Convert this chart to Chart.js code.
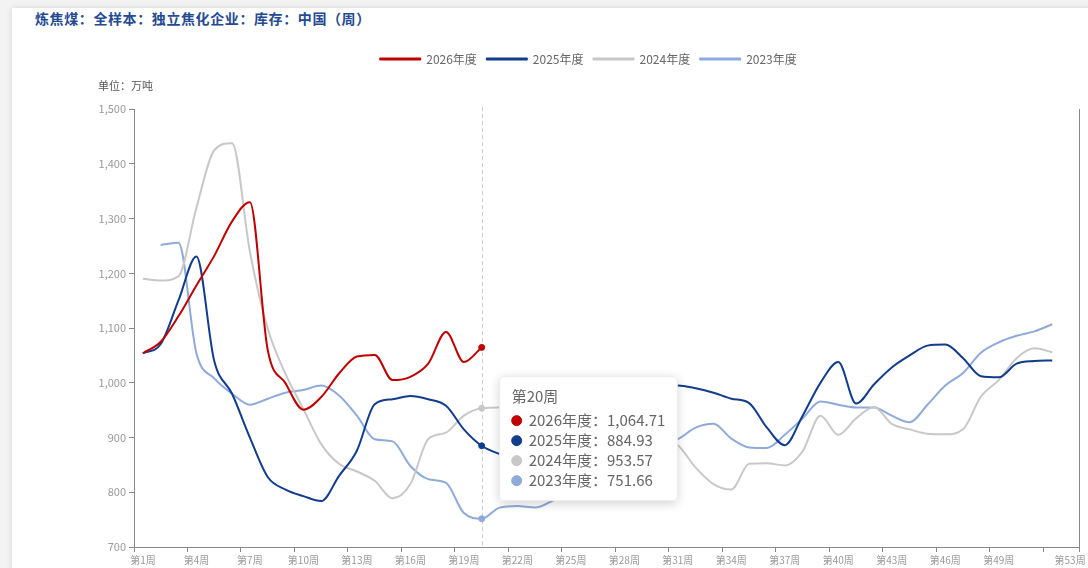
<!DOCTYPE html>
<html>
<head>
<meta charset="utf-8">
<title>炼焦煤库存</title>
<script src="https://cdn.jsdelivr.net/npm/chart.js@4.4.1/dist/chart.umd.min.js"></script>
<style>
    html, body {
        margin: 0;
        padding: 0;
        width: 1088px;
        height: 568px;
        overflow: hidden;
        background: #f3f3f3;
        font-family: "Noto Sans CJK SC", "Noto Sans", sans-serif;
    }
    .card {
        position: absolute;
        left: 12px;
        top: 8px;
        width: 1090px;
        height: 570px;
        background: #fff;
        box-shadow: 0 0 6px rgba(0, 0, 0, 0.12);
    }
    .title {
        position: absolute;
        left: 35px;
        top: 8px;
        font-size: 14px;
        line-height: 20px;
        font-weight: bold;
        color: #254a92;
        letter-spacing: 0.6px;
    }
    .chart-box {
        position: absolute;
        left: 12px;
        top: 35px;
        width: 1076px;
        height: 533px;
    }
</style>
</head>
<body>
<div class="card"></div>
<div class="title">炼焦煤：全样本：独立焦化企业：库存：中国（周）</div>
<div class="chart-box"><canvas id="stockChart"></canvas></div>

<script>
// Week categories (one point per week)
const weekLabels = [
    '第1周', '第2周', '第3周', '第4周', '第5周', '第6周', '第7周', '第8周', '第9周', '第10周',
    '第11周', '第12周', '第13周', '第14周', '第15周', '第16周', '第17周', '第18周', '第19周', '第20周',
    '第21周', '第22周', '第23周', '第24周', '第25周', '第26周', '第27周', '第28周', '第29周', '第30周',
    '第31周', '第32周', '第33周', '第34周', '第35周', '第36周', '第37周', '第38周', '第39周', '第40周',
    '第41周', '第42周', '第43周', '第44周', '第45周', '第46周', '第47周', '第48周', '第49周', '第50周',
    '第51周', '第52周'
];

// Tick marks sit on week boundaries, labels in the middle of their week
const xTickWeeks = [1, 4, 7, 10, 13, 16, 19, 22, 25, 28, 31, 34, 37, 40, 43, 46, 49, 52, 54];
const xLabelWeeks = [1, 4, 7, 10, 13, 16, 19, 22, 25, 28, 31, 34, 37, 40, 43, 46, 49, 53];
const xTickLabels = ['第1周', '第4周', '第7周', '第10周', '第13周', '第16周', '第19周', '第22周', '第25周',
    '第28周', '第31周', '第34周', '第37周', '第40周', '第43周', '第46周', '第49周', '第53周'];

// Inventory, 万吨
const stock2026 = [1054, 1075, 1122, 1178, 1232, 1295, 1330, 1060, 999, 951,
    974, 1017, 1048, 1051, 1005, 1011, 1035, 1093, 1038, 1064.71];

const stock2025 = [1054, 1071, 1151, 1231, 1040, 980, 900, 828, 805, 793,
    784, 830, 876, 961, 970, 976, 970, 958, 915, 884.93,
    870, 862, 865, 880, 905, 935, 960, 980, 990, 995,
    995, 990, 982, 971, 963, 918, 886, 940, 1000, 1038,
    962, 997, 1028, 1050, 1068, 1070, 1045, 1012, 1010, 1035,
    1040, 1041];

const stock2024 = [1190, 1187, 1195, 1320, 1425, 1438, 1240, 1099, 1016, 952,
    888, 852, 838, 821, 789, 815, 897, 909, 940, 953.57,
    955, 955, 955, 950, 945, 935, 925, 915, 905, 898,
    886, 845, 815, 805, 852, 853, 849, 875, 940, 905,
    935, 956, 925, 915, 907, 906, 915, 975, 1005, 1045,
    1063, 1056];

const stock2023 = [null, 1252, 1256, 1054, 1008, 980, 960, 971, 982, 987,
    995, 977, 940, 897, 893, 848, 824, 817, 762, 751.66,
    772, 775, 772, 785, 805, 830, 855, 872, 882, 888,
    897, 918, 925, 898, 882, 881, 905, 935, 966, 960,
    955, 955, 940, 928, 960, 995, 1018, 1055, 1074, 1086,
    1094, 1107];

const seriesLabels = ['2026年度', '2025年度', '2024年度', '2023年度'];
const seriesColors = ['#c00000', '#123c8c', '#c8c8c8', '#8eaadb'];

// Hovered week shown with the tooltip, and where the pointer sits (value units)
const hoverIndex = 19;
const hoverValue = 898;

/**
 * Week N occupies [N, N+1) on the linear x axis; values sit at its centre.
 */
function toPoints(values) {
    return values.map((v, i) => ({ x: i + 1.5, y: v }));
}

function buildDataset(values, idx) {
    return {
        label: seriesLabels[idx],
        data: toPoints(values),
        borderColor: seriesColors[idx],
        backgroundColor: seriesColors[idx],
        borderWidth: 2,
        borderJoinStyle: 'round',
        pointRadius: 0,
        pointHoverRadius: 3,
        pointHoverBorderWidth: 1,
        pointHoverBackgroundColor: seriesColors[idx],
        pointHoverBorderColor: seriesColors[idx],
        cubicInterpolationMode: 'monotone',
        fill: false,
        spanGaps: false
    };
}

// Tooltip sits to the right of the hovered week
Chart.Tooltip.positioners.besideWeek = function(items, eventPosition) {
    if (!items.length) return false;
    return { x: items[0].element.x, y: eventPosition.y };
};

// Dashed vertical line at the hovered week
const crosshair = {
    id: 'crosshair',
    beforeDatasetsDraw(chart) {
        const active = chart.tooltip.getActiveElements();
        if (!active.length) return;
        const x = Math.round(active[0].element.x) + 0.5;
        const { top, bottom } = chart.chartArea;
        const ctx = chart.ctx;
        ctx.save();
        ctx.setLineDash([4, 3]);
        ctx.strokeStyle = '#cccccc';
        ctx.lineWidth = 1;
        ctx.beginPath();
        ctx.moveTo(x, top - 2);
        ctx.lineTo(x, bottom);
        ctx.stroke();
        ctx.restore();
    }
};

// Soft shadow behind the tooltip box
const tooltipShadow = {
    id: 'tooltipShadow',
    beforeTooltipDraw(chart, args) {
        const t = args.tooltip;
        if (!t.opacity) return;
        const ctx = chart.ctx;
        ctx.save();
        ctx.shadowColor = 'rgba(0, 0, 0, 0.2)';
        ctx.shadowBlur = 10;
        ctx.shadowOffsetY = 2;
        ctx.fillStyle = '#fff';
        ctx.fillRect(t.x, t.y, t.width, t.height);
        ctx.restore();
    }
};

Chart.defaults.font.family = '"Noto Sans CJK SC", "Noto Sans", sans-serif';
Chart.defaults.font.size = 11;

const ctx = document.getElementById('stockChart').getContext('2d');
const chart = new Chart(ctx, {
    type: 'line',
    data: {
        datasets: [
            buildDataset(stock2026, 0),
            buildDataset(stock2025, 1),
            buildDataset(stock2024, 2),
            buildDataset(stock2023, 3)
        ]
    },
    plugins: [crosshair, tooltipShadow],
    options: {
        responsive: true,
        maintainAspectRatio: false,
        animation: false,
        events: [],
        layout: {
            padding: { left: 86, right: 9, top: 8, bottom: 0 }
        },
        plugins: {
            legend: {
                position: 'top',
                labels: {
                    boxWidth: 40,
                    boxHeight: 1,
                    padding: 10,
                    color: '#666',
                    font: { size: 12 }
                }
            },
            subtitle: {
                display: true,
                text: '单位：万吨',
                position: 'top',
                align: 'start',
                fullSize: true,
                weight: 500,
                color: '#555',
                font: { size: 11 },
                padding: { top: 4, bottom: 17 }
            },
            tooltip: {
                enabled: true,
                mode: 'index',
                intersect: false,
                position: 'besideWeek',
                xAlign: 'left',
                yAlign: 'center',
                caretSize: 0,
                caretPadding: 18,
                backgroundColor: '#fff',
                borderColor: '#ececec',
                borderWidth: 1,
                cornerRadius: 4,
                titleColor: '#666',
                bodyColor: '#666',
                titleFont: { size: 15, weight: 'normal' },
                bodyFont: { size: 15 },
                titleMarginBottom: 6,
                bodySpacing: 2,
                padding: { left: 12, right: 12, top: 11, bottom: 11 },
                usePointStyle: true,
                boxWidth: 10,
                boxHeight: 10,
                boxPadding: 5,
                callbacks: {
                    title: items => weekLabels[items[0].dataIndex],
                    label: item => item.dataset.label + '：' +
                        item.parsed.y.toLocaleString('en-US', { minimumFractionDigits: 2, maximumFractionDigits: 2 }),
                    labelColor: item => ({
                        borderColor: item.dataset.borderColor,
                        backgroundColor: item.dataset.borderColor
                    }),
                    labelPointStyle: () => ({ pointStyle: 'circle', rotation: 0 })
                }
            }
        },
        scales: {
            // axis line and tick marks on week boundaries
            x: {
                type: 'linear',
                position: 'bottom',
                weight: 0,
                min: 1,
                max: 54,
                afterBuildTicks: scale => {
                    scale.ticks = xTickWeeks.map(v => ({ value: v }));
                },
                afterFit: scale => {
                    scale.paddingLeft = 0;
                    scale.paddingRight = 0;
                },
                ticks: { display: false },
                grid: {
                    display: true,
                    drawOnChartArea: false,
                    drawTicks: true,
                    tickLength: 5,
                    color: '#888'
                },
                border: { color: '#888' }
            },
            // week labels, centred in their week
            xLabels: {
                type: 'linear',
                position: 'bottom',
                weight: 1,
                min: 1,
                max: 54,
                afterBuildTicks: scale => {
                    scale.ticks = xLabelWeeks.map(v => ({ value: v + 0.5 }));
                },
                afterFit: scale => {
                    scale.paddingLeft = 0;
                    scale.paddingRight = 0;
                },
                ticks: {
                    autoSkip: false,
                    maxRotation: 0,
                    color: '#999',
                    padding: 2,
                    font: { size: 10 },
                    callback: (value, index) => xTickLabels[index]
                },
                grid: { display: false, drawTicks: false },
                border: { display: false }
            },
            y: {
                position: 'left',
                min: 700,
                max: 1500,
                afterFit: scale => {
                    scale.width = 36;
                },
                ticks: {
                    stepSize: 100,
                    color: '#999',
                    padding: 3,
                    font: { size: 11 },
                    callback: value => value.toLocaleString('en-US')
                },
                grid: {
                    display: true,
                    drawOnChartArea: false,
                    tickLength: 5,
                    color: '#888'
                },
                border: { color: '#888' }
            },
            y2: {
                position: 'right',
                display: true,
                afterFit: scale => {
                    scale.width = 0;
                },
                ticks: { display: false },
                grid: { display: false, drawTicks: false },
                border: { display: true, color: '#888' }
            }
        }
    }
});

// Show the hovered week as in the reference
const activeItems = chart.data.datasets.map((d, i) => ({ datasetIndex: i, index: hoverIndex }));
chart.setActiveElements(activeItems);
chart.tooltip.setActiveElements(activeItems, { x: 0, y: chart.scales.y.getPixelForValue(hoverValue) });
chart.update();
</script>
</body>
</html>
